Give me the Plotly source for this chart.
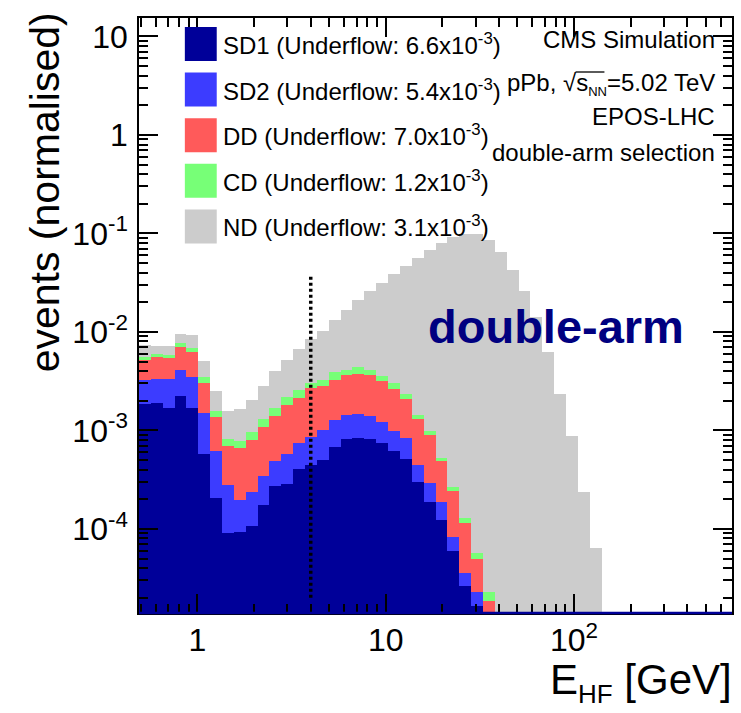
import numpy as np
import plotly.graph_objects as go

# ---------------- data ----------------
E_MIN, E_MAX, N_BINS = 0.49, 690.0, 50          # histogram range [GeV], log bins

sd1 = [1.87e-3, 1.90e-3, 1.70e-3, 2.22e-3, 1.70e-3, 5.79e-4, 2.08e-4, 9.0e-5, 9.4e-5, 1.06e-4,
       1.75e-4, 2.72e-4, 2.87e-4, 4.08e-4, 4.41e-4, 5.03e-4, 6.77e-4, 8.23e-4, 8.42e-4, 8.23e-4,
       7.43e-4, 6.11e-4, 5.15e-4, 2.98e-4, 1.87e-4, 1.22e-4, 6.0e-5, 2.65e-5, 1.66e-5, 0.0]
sd2 = [1.41e-3, 1.43e-3, 1.63e-3, 1.92e-3, 1.76e-3, 9.22e-4, 4.03e-4, 1.86e-4, 1.03e-4, 1.32e-4,
       1.66e-4, 2.12e-4, 2.83e-4, 3.41e-4, 4.14e-4, 5.13e-4, 5.87e-4, 5.98e-4, 6.35e-4, 5.65e-4,
       4.72e-4, 3.73e-4, 3.21e-4, 1.43e-4, 1.04e-4, 6.5e-5, 2.2e-5, 8.9e-6, 6.1e-6, 0.0]
dd = [1.87e-3, 2.24e-3, 2.11e-3, 2.90e-3, 2.75e-3, 1.53e-3, 7.56e-4, 4.17e-4, 4.64e-4, 5.53e-4,
      7.40e-4, 9.14e-4, 1.225e-3, 1.40e-3, 1.835e-3, 1.784e-3, 2.016e-3, 2.20e-3, 2.29e-3, 2.23e-3,
      1.965e-3, 1.666e-3, 1.264e-3, 8.53e-4, 5.99e-4, 2.97e-4, 1.60e-4, 7.9e-5, 2.7e-5, 1.87e-5]
cd = [4.2e-4, 4.5e-4, 4.4e-4, 7.5e-4, 6.7e-4, 4.3e-4, 2.18e-4, 1.23e-4, 1.18e-4, 1.63e-4,
      2.13e-4, 2.89e-4, 3.75e-4, 4.2e-4, 3.4e-4, 4.8e-4, 6.1e-4, 5.2e-4, 6.4e-4, 5.2e-4,
      4.2e-4, 3.8e-4, 2.6e-4, 1.27e-4, 9.4e-5, 4.3e-5, 2.7e-5, 1.42e-5, 7.1e-6, 4.0e-6]
nd = [1.75e-3, 1.18e-3, 1.27e-3, 1.83e-3, 2.37e-3, 1.57e-3, 9.05e-4, 7.56e-4, 8.68e-4, 1.096e-3,
      1.506e-3, 2.293e-3, 3.06e-3, 4.20e-3, 5.53e-3, 6.96e-3, 9.25e-3, 1.273e-2, 1.689e-2, 2.176e-2,
      2.79e-2, 3.557e-2, 4.454e-2, 5.518e-2, 6.672e-2, 7.987e-2, 9.083e-2, 9.827e-2, 9.764e-2, 8.548e-2,
      6.41e-2, 4.30e-2, 2.61e-2, 1.42e-2, 6.26e-3, 2.32e-3, 8.76e-4, 2.36e-4, 6.36e-5]

processes = ["SD1", "SD2", "DD", "CD", "ND"]
series = [sd1, sd2, dd, cd, nd]
underflow = ["6.6", "5.4", "7.0", "1.2", "3.1"]     # x10^-3
colors = ["#000099", "#3c3cff", "#ff5a5a", "#77ff77", "#cccccc"]

x_tickvals = [1, 10, 100]
x_ticktext = ["1", "10", "10<sup>2</sup>"]
y_tickvals = [1e-4, 1e-3, 1e-2, 1e-1, 1, 10]
y_ticktext = ["10<sup>-4</sup>", "10<sup>-3</sup>", "10<sup>-2</sup>", "10<sup>-1</sup>", "1", "10"]

cut_energy = 4.0                     # GeV, dashed line
cut_ymin, cut_ymax = 2.0e-5, 3.8e-2

Y_MIN, Y_MAX = 1.40e-5, 15.4

# ---------------- figure ----------------
FONT = "Liberation Sans, Arial, Helvetica, sans-serif"
edges = np.logspace(np.log10(E_MIN), np.log10(E_MAX), N_BINS + 1)
centers = 0.5 * (edges[:-1] + edges[1:])
widths = np.diff(edges)


def pad(v):
    return list(v) + [0.0] * (N_BINS - len(v))


fig = go.Figure()
for name, vals, col in zip(processes, series, colors):
    fig.add_trace(go.Bar(x=centers, y=pad(vals), width=widths, name=name,
                         marker=dict(color=col, line=dict(width=0)), showlegend=False))

fig.add_trace(go.Scatter(x=[cut_energy, cut_energy], y=[cut_ymin, cut_ymax], mode="lines",
                         line=dict(color="black", width=3.5, dash="3px,3px"), showlegend=False))

minor_x = [m * 10 ** e for e in range(-1, 3) for m in range(2, 10)]
minor_y = [m * 10 ** e for e in range(-5, 2) for m in range(2, 10)]

axis_common = dict(
    ticks="inside", ticklen=19, tickwidth=1.5, tickcolor="black",
    showline=True, linecolor="black", linewidth=1.5, mirror="ticks",
    showgrid=False, zeroline=False,
    tickfont=dict(family=FONT, size=32, color="black"),
)

fig.update_layout(
    width=741, height=713,
    margin=dict(l=139, r=7, t=18, b=100),
    paper_bgcolor="white", plot_bgcolor="white",
    barmode="stack", bargap=0,
    showlegend=False,
    xaxis=dict(type="log", range=[np.log10(E_MIN), np.log10(E_MAX)],
               tickmode="array", tickvals=x_tickvals, ticktext=x_ticktext,
               ticklabelstandoff=-2,
               minor=dict(tickmode="array", tickvals=minor_x, ticks="inside", ticklen=9,
                          tickwidth=1.5, tickcolor="black", showgrid=False),
               **axis_common),
    yaxis=dict(type="log", range=[np.log10(Y_MIN), np.log10(Y_MAX)],
               tickmode="array", tickvals=y_tickvals, ticktext=y_ticktext,
               ticklabelstandoff=3,
               minor=dict(tickmode="array", tickvals=minor_y, ticks="inside", ticklen=9,
                          tickwidth=1.5, tickcolor="black", showgrid=False),
               **axis_common),
)

PLOT_L, PLOT_T, PLOT_W, PLOT_H = 139, 18, 595, 595


def px(xp):
    return (xp - PLOT_L) / PLOT_W


def py(yp):
    return 1 - (yp - PLOT_T) / PLOT_H


shapes = [dict(type="line", xref="paper", yref="paper", x0=0, x1=1, y0=0, y1=0,
               line=dict(color="#000099", width=2.5))]
annotations = []

# legend (drawn manually with large swatches)
for i, (name, uf, col) in enumerate(zip(processes, underflow, colors)):
    cy = 44 + 45.6 * i
    shapes.append(dict(type="rect", xref="paper", yref="paper",
                       x0=px(185), x1=px(217), y0=py(cy + 17), y1=py(cy - 17),
                       fillcolor=col, line=dict(width=0)))
    annotations.append(dict(xref="paper", yref="paper", x=px(221), y=py(cy),
                            xanchor="left", yanchor="middle", showarrow=False,
                            text=f"{name} (Underflow: {uf}x10<sup>-3</sup>)",
                            font=dict(family=FONT, size=24, color="black")))

right_lines = [("CMS Simulation", 40),
               ("pPb, \u221as<sub><span style='font-size:13px'>NN</span></sub>=5.02 TeV", 84),
               ("EPOS-LHC", 117), ("double-arm selection", 153)]
for txt, cy in right_lines:
    annotations.append(dict(xref="paper", yref="paper", x=px(719), y=py(cy),
                            xanchor="right", yanchor="middle", showarrow=False, text=txt,
                            font=dict(family=FONT, size=24, color="black")))
# overline of the square root
shapes.append(dict(type="line", xref="paper", yref="paper", x0=px(577), x1=px(606),
                   y0=py(72), y1=py(72), line=dict(color="black", width=1.3)))

annotations.append(dict(xref="paper", yref="paper", x=px(427), y=py(326),
                        xanchor="left", yanchor="middle", showarrow=False,
                        text="<b>double-arm</b>",
                        font=dict(family=FONT, size=47, color="#000080")))

annotations.append(dict(xref="paper", yref="paper", x=px(736), y=py(682),
                        xanchor="right", yanchor="middle", showarrow=False,
                        text="E<sub><span style='font-size:26px'>HF</span></sub> [GeV]",
                        font=dict(family=FONT, size=42, color="black")))

annotations.append(dict(xref="paper", yref="paper", x=px(45), y=py(192),
                        xanchor="center", yanchor="middle", showarrow=False, textangle=-90,
                        text="events (normalised)",
                        font=dict(family=FONT, size=41, color="black")))

fig.update_layout(shapes=shapes, annotations=annotations)
fig.write_html("out.html")
